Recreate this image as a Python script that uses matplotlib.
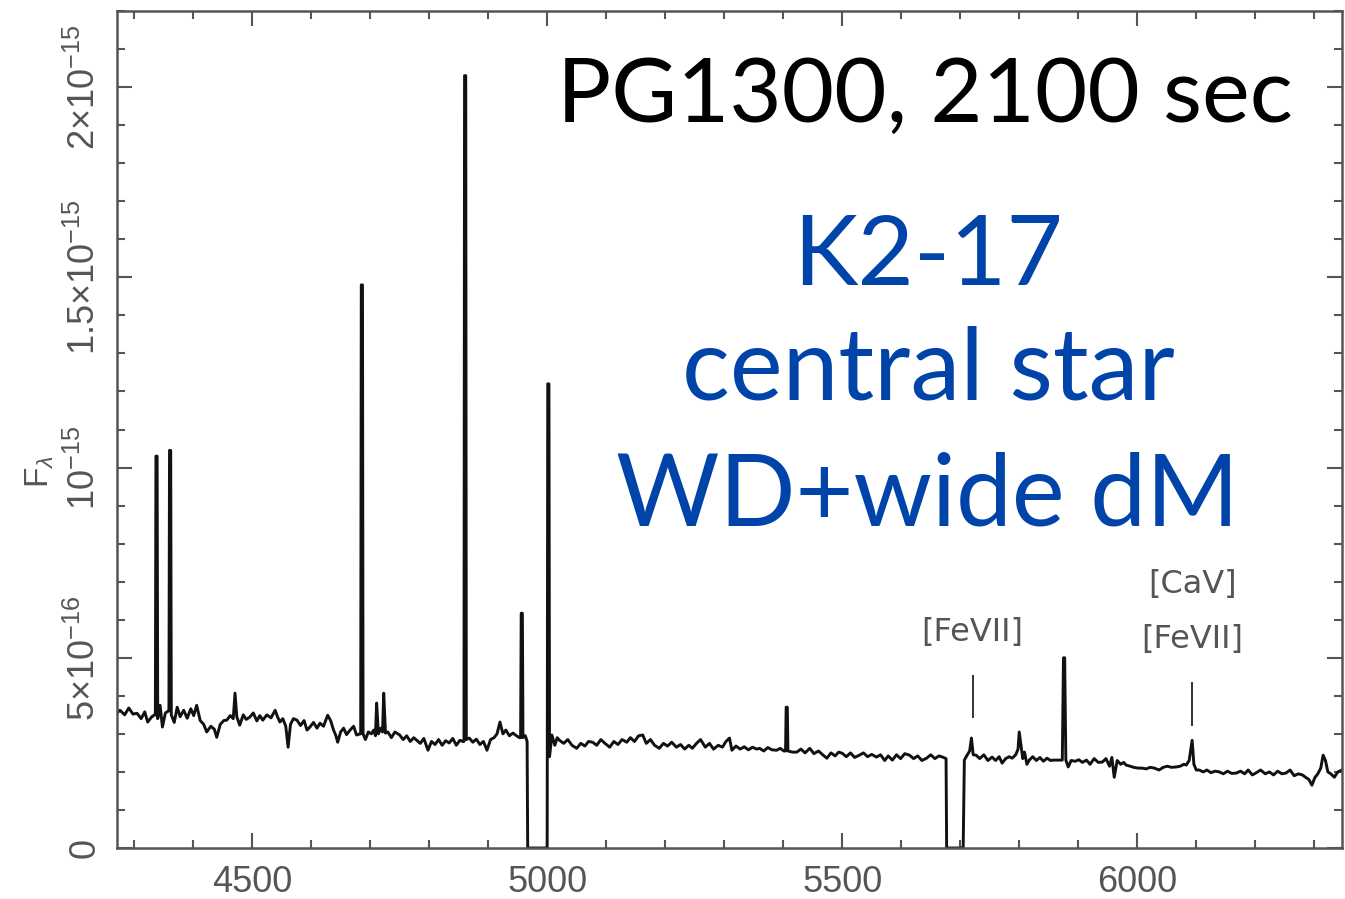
import numpy as np
import matplotlib
matplotlib.use("Agg")
import matplotlib.pyplot as plt
from matplotlib.ticker import MultipleLocator

plt.rcParams['mathtext.fontset'] = 'custom'
plt.rcParams['mathtext.rm'] = 'Liberation Sans'
plt.rcParams['mathtext.it'] = 'Liberation Sans:italic'

# spectrum: wavelength (A) and flux (units of 1e-16)
wave = [4271, 4276, 4284, 4291, 4298, 4305, 4312, 4318, 4323, 4330, 4335,
        4336, 4337, 4339, 4340, 4344, 4348, 4353, 4358,
        4359, 4360, 4362, 4363, 4368, 4373, 4378, 4384, 4390, 4396, 4401,
        4406, 4412, 4418, 4423, 4430, 4436, 4440, 4446, 4452, 4457, 4463,
        4468, 4471, 4474, 4479, 4485, 4490, 4496, 4502, 4508, 4513, 4518,
        4525, 4532, 4539, 4543, 4547, 4552, 4557, 4561, 4565, 4570, 4576,
        4582, 4588, 4593, 4598, 4604, 4610, 4615, 4621, 4628, 4633, 4638,
        4642, 4645, 4650, 4655, 4660, 4666, 4672, 4677, 4683,
        4684, 4685, 4687, 4688, 4692, 4697, 4702, 4706, 4709, 4711, 4714,
        4718, 4721, 4723, 4726, 4730, 4736, 4742, 4750, 4756, 4762, 4768,
        4774, 4779, 4785, 4791, 4798, 4804, 4810, 4816, 4822, 4828, 4834,
        4840, 4846, 4852, 4857,
        4859, 4860, 4862, 4863, 4868, 4874, 4880, 4886, 4892, 4898, 4904,
        4910, 4915, 4920, 4925, 4930, 4936, 4942, 4948, 4953,
        4955, 4956, 4958, 4959, 4963, 4966, 4967, 5000,
        5001, 5003, 5004, 5008, 5013, 5017, 5021, 5028, 5035, 5042, 5050,
        5057, 5064, 5070, 5077, 5084, 5091, 5098, 5106, 5113, 5120, 5127,
        5135, 5141, 5148, 5155, 5162, 5168, 5175, 5182, 5190, 5197, 5204,
        5211, 5219, 5226, 5233, 5240, 5246, 5253, 5260, 5268, 5275, 5282,
        5290, 5297, 5303, 5309, 5313, 5320, 5327, 5334, 5341, 5348, 5355,
        5360, 5367, 5374, 5381, 5389, 5395, 5401,
        5404, 5405, 5407, 5408, 5416, 5423, 5430, 5437, 5445, 5452, 5460,
        5467, 5474, 5481, 5488, 5494, 5500, 5507, 5514, 5521, 5529, 5536,
        5543, 5550, 5558, 5565, 5572, 5578, 5585, 5592, 5599, 5606, 5614,
        5621, 5628, 5635, 5643, 5650, 5657, 5664, 5670, 5676, 5677, 5705,
        5707, 5712, 5716, 5719, 5722, 5727, 5733, 5740, 5747, 5754, 5760,
        5766, 5771, 5777, 5783, 5788, 5794, 5798, 5800, 5803, 5806, 5809,
        5813, 5817, 5823, 5829, 5835, 5841, 5847, 5853, 5858,
        5873, 5875, 5877, 5879, 5883, 5888, 5895, 5901, 5907, 5914, 5920,
        5927, 5934, 5941, 5947, 5953, 5957, 5961, 5966, 5972, 5977, 5981,
        5988, 5994, 6001, 6008, 6015, 6022, 6029, 6037, 6044, 6051, 6058,
        6066, 6073, 6079, 6083, 6088, 6093, 6096, 6100, 6105, 6112, 6118,
        6125, 6132, 6139, 6146, 6153, 6160, 6168, 6175, 6182, 6188, 6195,
        6202, 6209, 6217, 6224, 6231, 6238, 6245, 6252, 6259, 6266, 6273,
        6280, 6286, 6291, 6296, 6301, 6306, 6311, 6315, 6319, 6323, 6328,
        6334, 6340, 6347]

flux = [3.55, 3.62, 3.50, 3.68, 3.52, 3.54, 3.40, 3.58, 3.31, 3.45, 3.50,
        3.50, 10.3, 10.3, 3.40, 3.75, 3.18, 3.55, 3.60,
        3.60, 10.45, 10.45, 3.50, 3.30, 3.70, 3.45, 3.62, 3.41, 3.66, 3.48,
        3.75, 3.35, 3.25, 3.05, 3.20, 3.12, 2.91, 3.25, 3.35, 3.36, 3.48,
        3.40, 4.07, 3.45, 3.23, 3.50, 3.38, 3.44, 3.55, 3.34, 3.48, 3.36,
        3.50, 3.42, 3.62, 3.45, 3.31, 3.40, 3.20, 2.65, 3.25, 3.40, 3.36,
        3.22, 3.35, 3.10, 3.18, 3.30, 3.15, 3.28, 3.20, 3.49, 3.35, 3.10,
        2.95, 2.78, 3.05, 3.15, 2.98, 3.10, 3.20, 2.97, 3.00,
        3.00, 14.8, 14.8, 3.00, 2.85, 3.05, 3.00, 3.10, 2.95, 3.81, 3.00,
        3.15, 3.05, 4.07, 3.02, 3.05, 2.90, 3.05, 2.97, 2.85, 2.95, 2.80,
        2.90, 2.83, 2.75, 2.88, 2.57, 2.80, 2.72, 2.85, 2.70, 2.82, 2.76,
        2.88, 2.70, 2.83, 2.80,
        2.80, 20.3, 20.3, 2.85, 2.89, 2.78, 2.86, 2.72, 2.80, 2.57, 2.85,
        2.90, 3.00, 3.31, 3.00, 3.10, 2.95, 3.02, 2.95, 2.90,
        2.90, 6.17, 6.17, 2.90, 2.95, 2.80, 0.0, 0.0,
        12.2, 12.2, 2.40, 2.97, 2.70, 2.90, 2.83, 2.75, 2.85, 2.70, 2.62,
        2.75, 2.68, 2.80, 2.78, 2.70, 2.85, 2.75, 2.65, 2.80, 2.72, 2.85,
        2.78, 2.90, 2.80, 2.95, 2.97, 2.75, 2.85, 2.70, 2.62, 2.75, 2.68,
        2.78, 2.65, 2.72, 2.60, 2.70, 2.62, 2.75, 2.85, 2.65, 2.75, 2.60,
        2.70, 2.65, 2.80, 2.89, 2.57, 2.68, 2.60, 2.66, 2.58, 2.65, 2.60,
        2.62, 2.55, 2.64, 2.58, 2.57, 2.62, 2.55,
        2.55, 3.70, 3.70, 2.55, 2.52, 2.52, 2.60, 2.50, 2.62, 2.48, 2.55,
        2.45, 2.36, 2.50, 2.42, 2.52, 2.49, 2.40, 2.50, 2.38, 2.44, 2.50,
        2.40, 2.46, 2.39, 2.45, 2.30, 2.42, 2.31, 2.45, 2.35, 2.48, 2.44,
        2.35, 2.42, 2.30, 2.36, 2.45, 2.35, 2.42, 2.39, 2.35, 0.0, 0.0,
        2.31, 2.45, 2.55, 2.89, 2.45, 2.44, 2.35, 2.45, 2.30, 2.39, 2.30,
        2.40, 2.23, 2.35, 2.40, 2.36, 2.45, 2.60, 3.05, 2.70, 2.35, 2.52,
        2.20, 2.31, 2.40, 2.30, 2.38, 2.28, 2.36, 2.30, 2.31,
        2.31, 5.00, 5.00, 2.31, 2.13, 2.30, 2.28, 2.32, 2.25, 2.31, 2.20,
        2.35, 2.25, 2.26, 2.35, 2.15, 2.38, 1.86, 2.30, 2.20, 2.25, 2.18,
        2.15, 2.12, 2.10, 2.10, 2.08, 2.12, 2.10, 2.05, 2.12, 2.15, 2.12,
        2.13, 2.15, 2.20, 2.18, 2.30, 2.83, 2.20, 2.05, 2.05, 2.00, 2.05,
        1.98, 2.02, 2.00, 1.95, 2.02, 1.96, 1.97, 2.02, 1.95, 2.05, 1.92,
        1.98, 2.05, 1.95, 2.00, 1.92, 2.02, 1.95, 1.97, 2.05, 1.90, 1.95,
        1.92, 1.85, 1.80, 1.65, 1.85, 1.95, 2.10, 2.44, 2.30, 2.00, 1.95,
        1.86, 2.00, 2.05]

# line identifications: position, top of marker, label lines
mark_wave = [5721, 6093]
mark_low = [3.44, 3.23]
mark_high = [4.51, 4.33]
mark_labels = [['[FeVII]'], ['[CaV]', '[FeVII]']]

ytick_vals = [0, 5, 10, 15, 20]
ytick_labels = ['0', r'$5{\times}10^{-16}$', r'$10^{-15}$',
                r'$1.5{\times}10^{-15}$', r'$2{\times}10^{-15}$']
xtick_vals = [4500, 5000, 5500, 6000]

gray = '#555555'
blue = '#0044AA'

fig = plt.figure(figsize=(13.45, 8.99), dpi=100)
ax = fig.add_axes([117/1345, 51/899, (1342-117)/1345, (848-11)/899])

ax.plot(wave, flux, color='#111111', lw=2.1)

for w, lo, hi, labs in zip(mark_wave, mark_low, mark_high, mark_labels):
    ax.plot([w, w], [lo, hi], color='#333333', lw=1.4)
    for k, lab in enumerate(labs[::-1]):
        ax.text(w, hi + 1.15 + k * 1.45, lab, ha='center', va='center',
                fontsize=23, color=gray, family='DejaVu Sans')

ax.set_xlim(4271, 6347)
ax.set_ylim(0, 22)
ax.set_xticks(xtick_vals)
ax.set_xticklabels([str(v) for v in xtick_vals])
ax.xaxis.set_minor_locator(MultipleLocator(100))
ax.set_yticks(ytick_vals)
ax.set_yticklabels(ytick_labels, rotation=90, va='center')
ax.yaxis.set_minor_locator(MultipleLocator(1))

ax.tick_params(which='both', direction='in', top=True, right=True,
               colors=gray, labelsize=26, width=1.5)
ax.tick_params(which='major', length=11)
ax.tick_params(axis='x', which='major', pad=12)
ax.tick_params(axis='y', which='major', pad=10)
ax.tick_params(which='minor', length=6)
for lab in ax.get_xticklabels() + ax.get_yticklabels():
    lab.set_family('Liberation Sans')
for s in ax.spines.values():
    s.set_color(gray)
    s.set_linewidth(1.8)

ax.set_ylabel(r'F$_\lambda$', fontsize=24, color=gray, family='Liberation Sans')
ax.yaxis.set_label_coords(-0.05, 0.45)

fig.text(1293/1345, 1 - 122/899, 'PG1300, 2100 sec', ha='right',
         va='baseline', fontsize=65, family='Lato', color='black')
fig.text(928/1345, 1 - 285/899, 'K2-17', ha='center', va='baseline',
         fontsize=70, family='Lato', color=blue)
fig.text(928/1345, 1 - 400/899, 'central star', ha='center', va='baseline',
         fontsize=72, family='Lato', color=blue)
fig.text(928/1345, 1 - 525/899, 'WD+wide dM', ha='center', va='baseline',
         fontsize=72, family='Lato', color=blue)

fig.savefig('out.png', dpi=100)
